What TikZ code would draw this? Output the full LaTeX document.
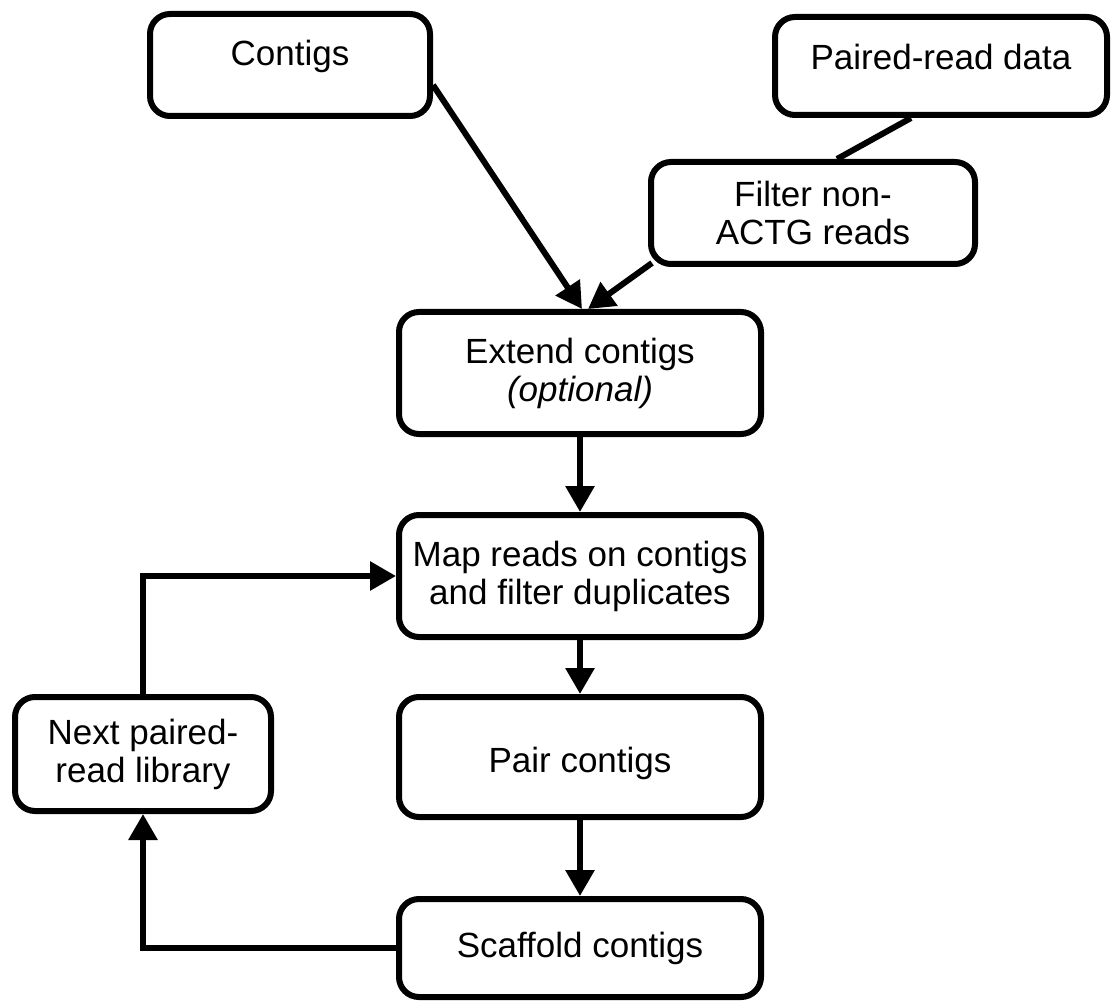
\documentclass[tikz,border=0pt]{standalone}
\usepackage{fontspec}
\setmainfont{Liberation Sans}
\usetikzlibrary{arrows.meta}
\tikzset{
    stage/.style={draw, line width=3pt, rounded corners=10pt, align=center, inner sep=2pt,
        font=\fontsize{17.5}{19}\selectfont},
    flow/.style={line width=3pt, -{Triangle[width=14pt,length=13pt]}},
}
\begin{document}
\begin{tikzpicture}[x=0.5pt,y=-0.5pt]
            \useasboundingbox (0,0) rectangle (1112,1005);
            \node[stage, minimum width=140pt, minimum height=51pt, text depth=12pt] (contigs) at (290,65) {Contigs};
            \node[stage, minimum width=166pt, minimum height=49pt, text depth=9pt] (paired) at (941,66) {Paired-read data};
            \node[stage, minimum width=162pt, minimum height=51pt] (filter) at (813,213) {Filter non-\\ACTG reads};
            \node[stage, minimum width=181pt, minimum height=61pt] (extend) at (580,373) {Extend contigs\\\textit{(optional)}};
            \node[stage, minimum width=181pt, minimum height=61pt] (map) at (580,576) {Map reads on contigs\\and filter duplicates};
            \node[stage, minimum width=181pt, minimum height=60pt, text height=19pt] (pair) at (580,757) {Pair contigs};
            \node[stage, minimum width=181pt, minimum height=49pt] (scaffold) at (580,948) {Scaffold contigs};
            \node[stage, minimum width=128pt, minimum height=57pt] (next) at (143,754) {Next paired-\\read library};

            \draw[line width=3pt] ([xshift=-15pt]paired.south) -- ([xshift=12pt]filter.north);
            \draw[flow] ([yshift=-10pt]contigs.east) -- ([xshift=1pt]extend.north);
            \draw[flow] ([xshift=2pt,yshift=2pt]filter.south west) -- ([xshift=4pt]extend.north);
            \draw[flow] (extend) -- (map);
            \draw[flow] (map) -- (pair);
            \draw[flow] (pair) -- (scaffold);
            \draw[flow] (scaffold.west) -| (next.south);
            \draw[flow] (next.north) |- (map.west);
        \end{tikzpicture}
\end{document}
